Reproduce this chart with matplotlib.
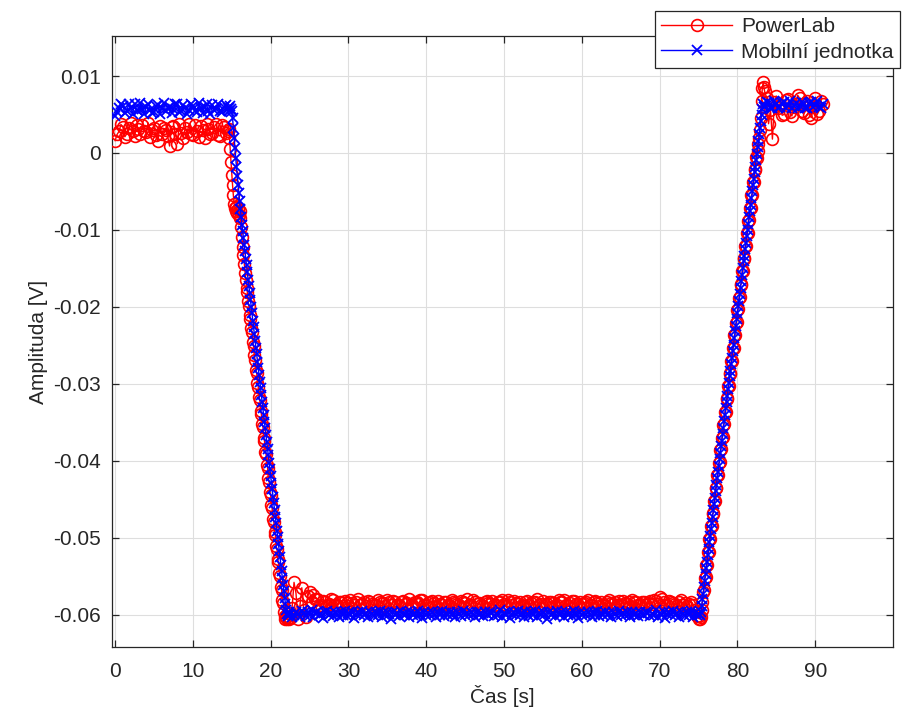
import numpy as np
import matplotlib
matplotlib.use("Agg")
import matplotlib.pyplot as plt
from matplotlib import ticker

plt.rcParams['font.family'] = ['Liberation Sans', 'DejaVu Sans']

# ---------------- data (values in mV) ----------------
# segment A: t = 0.0 .. 14.5 s, step 0.25 s
red_a = [1.6, 2.4, 2.8, 3.7, 3.4, 2.1, 2.5, 3.3, 3.9, 2.9,
         2.2, 3.6, 3.1, 2.4, 3.6, 2.8, 2.7, 3.9, 2.1, 3.0,
         3.3, 2.3, 1.5, 3.5, 2.4, 3.2, 3.0, 2.2, 0.9, 3.4,
         3.5, 2.5, 1.2, 3.8, 2.6, 2.0, 3.2, 2.7, 3.7, 2.4,
         2.3, 3.6, 2.9, 2.1, 3.5, 3.0, 2.0, 3.8, 3.1, 2.5,
         2.6, 3.4, 3.8, 2.3, 2.2, 3.6, 3.4, 2.6, 2.9]
blue_a = [4.8, 5.3, 5.9, 6.4, 6.1, 5.2, 5.5, 6.3, 5.8, 5.1,
          6.3, 5.6, 5.4, 6.5, 5.7, 5.0, 6.0, 6.4, 5.6, 5.2,
          5.3, 6.1, 6.2, 5.1, 5.8, 6.5, 5.5, 5.9, 6.0, 5.2,
          5.7, 6.4, 6.4, 5.3, 5.4, 6.2, 5.9, 5.0, 5.6, 6.3,
          6.1, 5.4, 5.3, 6.5, 5.8, 5.2, 6.0, 6.3, 5.5, 5.1,
          6.2, 5.6, 5.7, 6.4, 5.4, 5.3, 6.0, 6.2, 5.8]

# segment B (falling edge): t = 14.6 .. 22.4 s, step 0.1 s
red_b = [3.1, 2.0, 0.5, -1.2, -2.8, -4.2, -5.5, -6.6, -7.2, -7.5,
         -7.0, -7.8, -7.3, -8.1, -7.6, -8.4, -9.6, -10.9, -12.2, -13.3,
         -14.4, -15.6, -16.5, -17.5, -18.1, -19.3, -19.9, -21.0, -21.6, -22.8,
         -23.3, -24.6, -25.1, -26.3, -26.9, -28.2, -28.6, -29.9, -30.4, -31.7,
         -32.1, -33.5, -33.9, -35.2, -35.6, -37.0, -37.4, -38.8, -39.1, -40.5,
         -40.9, -42.3, -42.7, -44.0, -44.5, -45.8, -46.2, -47.6, -47.9, -49.3,
         -49.7, -51.1, -51.4, -52.8, -53.2, -54.6, -55.0, -56.4, -56.8, -58.1,
         -58.5, -59.6, -60.2, -60.5, -60.3, -60.6, -59.8, -60.4, -60.5]
blue_b = [5.9, 5.5, 6.1, 5.7, 5.4, 4.5, 3.2, 1.9, 0.6, -0.6,
          -1.8, -3.0, -4.1, -5.2, -6.3, -7.3, -8.3, -9.3, -10.2, -11.0,
          -12.0, -12.8, -13.8, -14.6, -15.5, -16.5, -17.3, -18.2, -19.1, -20.0,
          -20.8, -21.8, -22.6, -23.5, -24.4, -25.3, -26.1, -27.1, -27.9, -28.8,
          -29.7, -30.5, -31.5, -32.3, -33.2, -34.1, -35.0, -35.8, -36.7, -37.6,
          -38.5, -39.3, -40.3, -41.1, -42.0, -42.9, -43.7, -44.7, -45.5, -46.4,
          -47.3, -48.1, -49.1, -49.9, -50.8, -51.7, -52.5, -53.5, -54.3, -55.2,
          -56.1, -56.9, -57.8, -58.6, -59.4, -59.9, -60.2, -59.7, -60.1]

# segment C (low plateau): t = 22.5 .. 75.0 s, step 0.25 s
red_c = [-60.4, -59.1, -55.8, -57.2, -60.6, -58.9, -56.5, -59.4, -60.3, -57.6,
         -57.0, -58.4, -57.4, -57.9, -58.0, -58.9, -58.7, -58.2, -58.3, -58.9,
         -58.6, -58.0, -58.1, -58.7, -58.8, -58.3, -58.4, -58.9, -58.2, -58.5,
         -58.9, -58.1, -58.5, -58.7, -58.3, -58.0, -58.7, -58.6, -58.4, -58.9,
         -58.2, -58.3, -58.6, -58.8, -58.8, -58.1, -58.3, -58.5, -58.5, -58.9,
         -58.1, -58.4, -58.7, -58.2, -58.4, -58.8, -58.9, -58.3, -58.2, -58.6,
         -58.5, -58.0, -58.7, -58.9, -58.3, -58.4, -58.6, -58.1, -58.1, -58.7,
         -58.8, -58.5, -58.4, -58.2, -58.5, -58.9, -58.2, -58.6, -58.7, -58.3,
         -58.3, -58.8, -58.9, -58.1, -58.4, -58.5, -58.6, -58.8, -58.2, -58.4,
         -58.5, -58.0, -58.8, -58.7, -58.1, -58.3, -58.6, -58.5, -58.7, -58.9,
         -58.4, -58.2, -58.5, -58.6, -58.2, -58.8, -58.8, -58.3, -58.4, -58.1,
         -58.6, -58.9, -58.1, -58.4, -58.7, -58.2, -58.5, -58.6, -58.3, -58.8,
         -58.9, -58.3, -58.2, -58.7, -58.5, -58.4, -58.4, -58.0, -58.7, -58.6,
         -58.2, -58.8, -58.6, -58.3, -58.3, -58.5, -58.9, -58.7, -58.1, -58.4,
         -58.4, -58.1, -58.7, -58.9, -58.5, -58.2, -58.2, -58.6, -58.8, -58.3,
         -58.6, -58.5, -58.3, -58.1, -58.8, -58.7, -58.4, -58.2, -58.5, -58.9,
         -58.3, -58.7, -58.9, -58.4, -58.1, -58.5, -58.6, -58.3, -58.7, -58.2,
         -58.8, -58.2, -58.5, -58.6, -58.4, -58.9, -58.1, -58.4, -58.3, -58.7,
         -58.6, -58.3, -58.4, -58.8, -58.5, -58.2, -58.6, -58.1, -58.2, -58.6,
         -57.7, -57.9, -58.4, -58.8, -58.7, -58.2, -58.3, -58.5, -58.6, -58.9,
         -58.4, -58.1, -58.7, -58.5, -58.9, -58.6, -58.3, -58.8, -59.4, -60.2,
         -60.5]
blue_c = [-59.9, -60.3, -60.1, -59.6, -59.9, -60.3, -59.5, -59.8, -60.2, -59.7,
          -60.0, -59.4, -60.3, -59.8, -59.6, -60.1, -59.9, -60.4, -59.7, -59.5,
          -60.0, -59.8, -60.2, -59.6, -59.9, -60.3, -59.7, -60.0, -59.5, -60.2,
          -59.8, -60.1, -59.6, -60.4, -59.9, -59.7, -60.1, -59.5, -60.0, -59.8,
          -60.3, -59.6, -59.9, -60.2, -59.7, -60.0, -59.5, -60.3, -59.8, -60.1,
          -59.6, -59.9, -60.5, -59.7, -60.0, -59.8, -60.2, -59.5, -59.9, -60.1,
          -59.7, -60.3, -59.6, -60.0, -59.8, -60.2, -59.5, -59.9, -60.4, -59.7,
          -60.0, -59.8, -60.1, -59.6, -59.9, -60.3, -59.7, -60.0, -59.5, -60.2,
          -59.8, -60.1, -59.6, -60.0, -59.8, -60.3, -59.7, -59.9, -60.2, -59.5,
          -60.0, -59.8, -60.1, -59.6, -59.9, -60.3, -59.7, -60.0, -59.8, -60.2,
          -59.6, -59.9, -60.1, -59.7, -59.8, -60.2, -59.9, -60.0, -59.4, -60.3,
          -59.8, -60.1, -59.6, -60.4, -59.9, -59.7, -60.1, -59.5, -60.0, -59.8,
          -60.3, -59.6, -59.9, -60.2, -59.7, -60.0, -59.5, -60.3, -59.8, -60.1,
          -59.6, -59.9, -60.5, -59.7, -60.0, -59.8, -60.2, -59.5, -59.9, -60.1,
          -59.7, -60.3, -59.6, -60.0, -59.8, -60.2, -59.5, -59.9, -60.4, -59.7,
          -60.0, -59.8, -60.1, -59.6, -59.9, -60.3, -59.7, -60.0, -59.5, -60.2,
          -59.8, -60.1, -59.6, -60.0, -59.8, -60.3, -59.7, -59.9, -60.2, -59.5,
          -60.0, -59.8, -60.1, -59.6, -59.9, -60.3, -59.7, -60.0, -59.8, -60.2,
          -59.6, -59.9, -60.1, -59.7, -59.8, -60.2, -59.9, -60.0, -59.4, -60.3,
          -59.8, -60.1, -59.6, -60.4, -59.9, -59.7, -60.1, -59.5, -60.0, -59.8,
          -60.3, -59.6, -59.9, -60.2, -59.7, -60.0, -59.5, -60.3, -59.8, -60.1,
          -59.9]

# segment D (rising edge): t = 75.1 .. 83.4 s, step 0.1 s
red_d = [-60.2, -60.6, -60.3, -59.4, -58.3, -57.0, -56.8, -55.2, -55.1,
         -53.5, -53.5, -51.8, -51.9, -50.2, -50.2, -48.5, -48.5, -46.9, -46.8,
         -45.2, -45.2, -43.5, -43.5, -41.9, -41.8, -40.3, -40.2, -38.6, -38.5,
         -37.0, -36.9, -35.3, -35.2, -33.6, -33.6, -31.9, -32.0, -30.3, -30.3,
         -28.6, -28.7, -27.0, -27.0, -25.3, -25.3, -23.7, -23.6, -22.1, -22.0,
         -20.4, -20.3, -18.8, -18.7, -17.1, -17.0, -15.4, -15.4, -13.7, -13.8,
         -12.1, -12.1, -10.4, -10.4, -8.8, -8.7, -7.2, -7.1, -5.5, -5.4,
         -3.8, -3.8, -2.1, -2.2, -0.5, -0.6, 0.3, 1.2, 2.0, 3.0,
         4.6, 6.8, 8.4, 9.2, 8.6]
blue_d = [-59.9, -60.1, -59.6, -58.9, -58.0, -57.3, -56.4, -55.6, -54.7,
          -53.9, -53.1, -52.2, -51.5, -50.6, -49.8, -48.9, -48.1, -47.3, -46.4,
          -45.6, -44.8, -43.9, -43.1, -42.3, -41.4, -40.7, -39.8, -39.0, -38.1,
          -37.4, -36.5, -35.7, -34.8, -34.0, -33.2, -32.3, -31.6, -30.7, -29.9,
          -29.0, -28.3, -27.4, -26.6, -25.7, -24.9, -24.1, -23.2, -22.5, -21.6,
          -20.8, -19.9, -19.2, -18.3, -17.5, -16.6, -15.8, -15.0, -14.1, -13.4,
          -12.5, -11.7, -10.8, -10.0, -9.2, -8.3, -7.6, -6.7, -5.9, -5.0,
          -4.2, -3.4, -2.5, -1.8, -0.9, -0.1, 0.8, 1.5, 2.4, 3.2,
          4.1, 4.9, 5.7, 6.3, 6.0]

# segment E (high plateau): t = 83.5 .. 91.0 s, step 0.25 s
red_e = [8.0, 7.2, 3.8, 5.6, 1.8, 6.6, 7.4, 5.8, 6.2, 4.9,
         5.0, 6.9, 7.0, 5.3, 4.8, 6.0, 6.4, 7.5, 7.1, 5.4,
         5.2, 6.5, 6.8, 4.9, 4.6, 6.1, 7.2, 5.0, 5.5, 6.7,
         6.3]
blue_e = [6.1, 6.6, 6.5, 5.8, 5.9, 6.7, 6.4, 5.9, 6.0, 6.5,
          6.6, 5.8, 6.2, 6.7, 5.8, 6.1, 6.5, 5.9, 6.1, 6.6,
          6.3, 5.8, 5.9, 6.5, 6.6, 6.0, 6.2, 6.7, 6.0, 5.9,
          6.4]

# sampling grid (start, end) of each segment
seg_bounds = [(0.0, 14.5), (14.6, 22.4), (22.5, 75.0), (75.1, 83.4), (83.5, 91.0)]

x_ticks = [0, 10, 20, 30, 40, 50, 60, 70, 80, 90]
y_ticks = [-0.06, -0.05, -0.04, -0.03, -0.02, -0.01, 0.0, 0.01]

series_labels = ['PowerLab', 'Mobilní jednotka']


def build(segments):
    ts, vs = [], []
    for (a, b), seg in zip(seg_bounds, segments):
        ts.append(np.linspace(a, b, len(seg)))
        vs.append(np.asarray(seg, dtype=float) / 1000.0)
    return np.concatenate(ts), np.concatenate(vs)


t_red, v_red = build([red_a, red_b, red_c, red_d, red_e])
t_blue, v_blue = build([blue_a, blue_b, blue_c, blue_d, blue_e])

# ---------------- figure ----------------
W, H = 903, 725
fig = plt.figure(figsize=(W / 100, H / 100), dpi=100, facecolor='white')
ax_l, ax_r, ax_t, ax_b = 112, 893, 36, 647
ax = fig.add_axes([ax_l / W, 1 - ax_b / H, (ax_r - ax_l) / W, (ax_b - ax_t) / H])

dark = '#262626'

ax.plot(t_red, v_red, '-o', color=(1, 0, 0), mfc='none', ms=8.5, mew=1.2, lw=1.0,
        label=series_labels[0], zorder=3)
ax.plot(t_blue, v_blue, '-x', color=(0, 0, 1), ms=6.5, mew=1.3, lw=1.0,
        label=series_labels[1], zorder=4)

ax.set_xlim(-0.4, 100)
ax.set_ylim(-0.0642, 0.0152)
ax.set_xticks(x_ticks)
ax.set_yticks(y_ticks)
ax.yaxis.set_major_formatter(ticker.FuncFormatter(lambda v, p: f'{v:g}' if abs(v) > 1e-12 else '0'))
ax.xaxis.set_major_formatter(ticker.FuncFormatter(lambda v, p: f'{v:g}'))

ax.grid(True, color='#dedede', lw=0.8)
ax.set_axisbelow(True)
for s in ax.spines.values():
    s.set_color(dark)
    s.set_linewidth(0.9)
ax.tick_params(direction='in', top=True, right=True, length=5, width=0.9,
               colors=dark, labelsize=15)
ax.tick_params(axis='x', pad=11)
ax.tick_params(axis='y', pad=8)

ax.set_xlabel('Čas [s]', fontsize=15, color=dark, labelpad=3)
ax.set_ylabel('Amplituda [V]', fontsize=15, color=dark, labelpad=4)

leg = fig.legend(loc='upper left', bbox_to_anchor=(655 / W, 1 - 11 / H),
                 fontsize=15, frameon=True, fancybox=False, framealpha=1,
                 edgecolor=dark, handlelength=3.4, handletextpad=0.45,
                 borderpad=0.3, labelspacing=0.3, numpoints=1, borderaxespad=0)
leg.get_frame().set_linewidth(0.9)
for txt in leg.get_texts():
    txt.set_color(dark)

fig.savefig('out.png', dpi=100, facecolor='white')
